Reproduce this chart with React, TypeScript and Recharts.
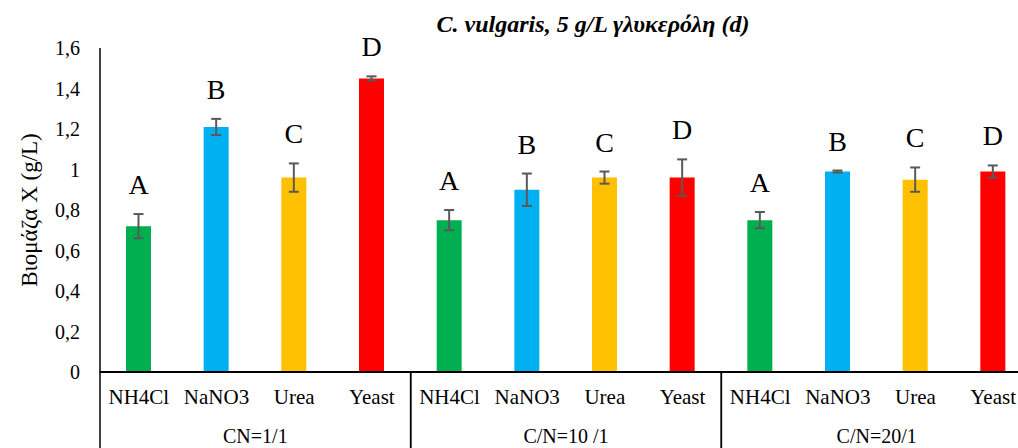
import { BarChart, Bar, XAxis, YAxis, Cell, ErrorBar, LabelList } from 'recharts';

const groups = ['CN=1/1', 'C/N=10 /1', 'C/N=20/1'];
const sources = ['NH4Cl', 'NaNO3', 'Urea', 'Yeast'];
const letters = ['A', 'B', 'C', 'D'];
const biomass = [
  [0.72, 1.21, 0.96, 1.45],
  [0.75, 0.9, 0.96, 0.96],
  [0.75, 0.99, 0.95, 0.99],
];
const errors = [
  [0.06, 0.04, 0.07, 0.01],
  [0.05, 0.08, 0.03, 0.09],
  [0.04, 0.005, 0.06, 0.03],
];
const yTicks = [0, 0.2, 0.4, 0.6, 0.8, 1, 1.2, 1.4, 1.6];
const COLORS = ['#00B050', '#00B0F0', '#FFC000', '#FF0000'];

const W = 1040;
const H = 448;
const X_H = 76;
const Y_W = 60;
const M = { top: 48, right: 8, bottom: 0, left: 40 };
const PLOT_W = W - M.left - Y_W - M.right;
const PLOT_H = H - M.top - X_H;
const Y_MAX = 1.6;
const FONT = "'Liberation Serif', 'Times New Roman', serif";

const data = groups.flatMap((g, gi) =>
  sources.map((s, si) => ({
    key: `${gi}-${si}`,
    group: g,
    source: s,
    letter: letters[si],
    value: biomass[gi][si],
    err: errors[gi][si],
    color: COLORS[si],
  }))
);

const band = PLOT_W / data.length;

const CategoryTick = (props: any) => {
  const { x, y, index } = props;
  const d = data[index];
  const si = index % sources.length;
  return (
    <g>
      <text x={x} y={y + 32} textAnchor="middle" fontFamily={FONT} fontSize={21} fill="#000">
        {d.source}
      </text>
      {si === 0 && (
        <line x1={x - band / 2} y1={y - 1} x2={x - band / 2} y2={H} stroke="#000" strokeWidth={1.5} />
      )}
      {si === sources.length - 1 && (
        <line x1={x + band / 2} y1={y - 1} x2={x + band / 2} y2={H} stroke="#000" strokeWidth={1.5} />
      )}
      {si === 1 && (
        <text x={x + band / 2} y={y + 71} textAnchor="middle" fontFamily={FONT} fontSize={20} fill="#000">
          {d.group}
        </text>
      )}
    </g>
  );
};

const LetterLabel = (props: any) => {
  const { x, y, width, index } = props;
  const errPx = (data[index].err * PLOT_H) / Y_MAX;
  return (
    <text x={x + width / 2} y={y - errPx - 20} textAnchor="middle" fontFamily={FONT} fontSize={28} fill="#000">
      {data[index].letter}
    </text>
  );
};

export default function App() {
  return (
    <div style={{ position: 'absolute', left: 0, top: 0, width: 1018, height: 448, overflow: 'hidden', background: '#fff' }}>
      <BarChart width={W} height={H} data={data} margin={M}>
        <XAxis
          dataKey="key"
          interval={0}
          tickLine={false}
          tickSize={0}
          tickMargin={0}
          axisLine={{ stroke: '#000', strokeWidth: 2 }}
          tick={<CategoryTick />}
          height={X_H}
        />
        <YAxis
          width={Y_W}
          domain={[0, Y_MAX]}
          ticks={yTicks}
          tickLine={false}
          tickSize={0}
          tickMargin={20}
          axisLine={{ stroke: '#000', strokeWidth: 1.5 }}
          tick={{ fontFamily: FONT, fontSize: 20, fill: '#000' }}
          tickFormatter={(v: number) => String(v).replace('.', ',')}
        />
        <Bar dataKey="value" barSize={25} isAnimationActive={false}>
          {data.map((d) => (
            <Cell key={d.key} fill={d.color} />
          ))}
          <ErrorBar dataKey="err" width={5} stroke="#595959" strokeWidth={2} />
          <LabelList dataKey="letter" content={<LetterLabel />} />
        </Bar>
      </BarChart>
      <div
        style={{
          position: 'absolute',
          left: 593,
          top: 24,
          transform: 'translate(-50%, -50%)',
          fontFamily: FONT,
          fontSize: 24,
          fontWeight: 'bold',
          fontStyle: 'italic',
          whiteSpace: 'nowrap',
        }}
      >
        C. vulgaris, 5 g/L γλυκερόλη (d)
      </div>
      <div
        style={{
          position: 'absolute',
          left: 30,
          top: 210,
          transform: 'translate(-50%, -50%) rotate(-90deg)',
          fontFamily: FONT,
          fontSize: 23,
          whiteSpace: 'nowrap',
        }}
      >
        Βιομάζα X (g/L)
      </div>
    </div>
  );
}
